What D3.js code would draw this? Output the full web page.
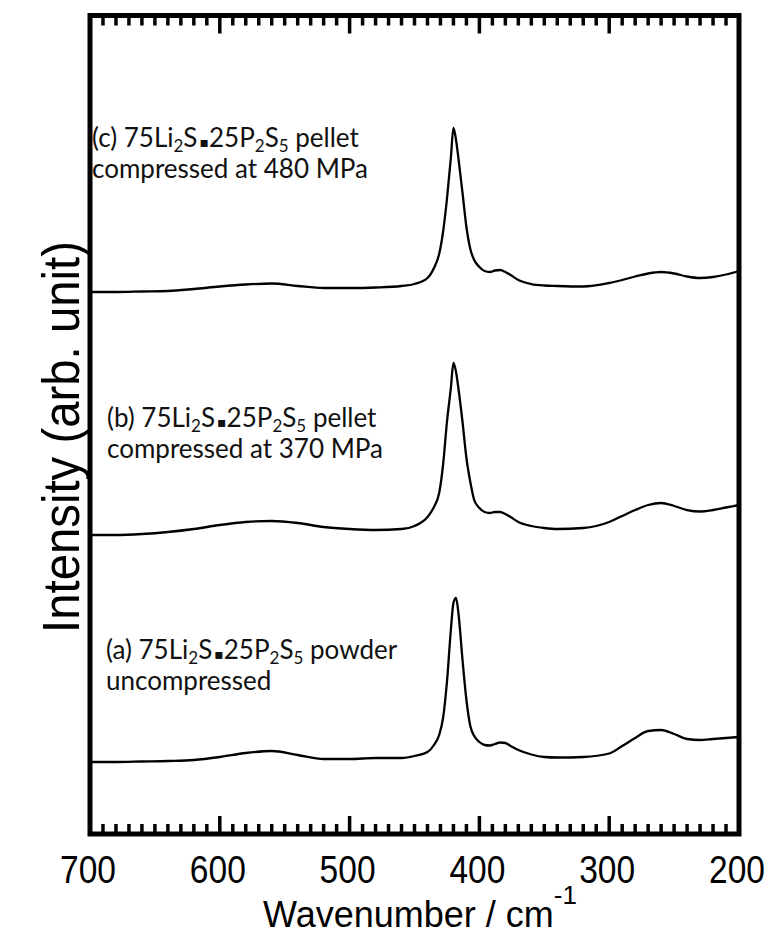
<html>
<head>
<meta charset="utf-8">
<script src="https://d3js.org/d3.v7.min.js"></script>
<style>
  body { margin: 0; background: #fff; }
  .note { font-family: Lato, 'Open Sans', sans-serif; font-size: 26px; fill: #111; }
  .num { font-family: 'Liberation Sans', Arial, sans-serif; }
</style>
</head>
<body>
<svg id="chart" width="772" height="935"></svg>
<script>
// wavenumber grid (cm-1), shared by the three spectra
const wavenumbers = [700, 680, 660, 640, 620, 600, 580, 560, 540, 520, 500, 480, 460, 450, 440, 435, 431, 428, 425, 422, 420, 418, 416, 413, 410, 407, 404, 400, 396, 392, 388, 384, 380, 376, 370, 360, 350, 340, 320, 300, 290, 280, 270, 260, 250, 240, 230, 220, 210, 200];

// intensities (arb. unit)
const powderA = [72, 72, 72.5, 73, 74, 77, 81, 83, 79, 75, 75, 76, 76, 78, 82, 89, 99, 116, 152, 204, 231, 236, 219, 174, 134, 108, 98, 92, 89, 88.5, 90, 91.5, 91, 88, 84, 79.5, 77, 76.5, 77, 80.5, 88, 96, 103, 104, 100, 95, 94, 95, 96, 97];
const pellet370 = [74, 74, 75, 77, 80, 84, 87, 88, 86, 82, 80, 79, 80, 83, 92, 102, 116, 144, 187, 221, 246, 237, 219, 187, 151, 127, 109, 101, 97, 96, 97, 97, 95, 92, 87, 83, 81, 80, 81, 87, 93, 99, 104, 106, 103, 99, 97.5, 99, 101.5, 104];
const pellet480 = [77, 77, 77.5, 78, 80, 82.5, 84.5, 85.5, 83, 81, 81, 81.5, 83, 85, 91, 101, 115, 137, 170, 211, 241, 229, 209, 176, 142, 120, 109, 102, 98, 97, 98.5, 99, 97, 94, 89, 85, 83.5, 83, 82.5, 86, 89, 92.5, 95.5, 97, 95.5, 92.5, 91, 92, 94.5, 98];

// vertical offsets used to stack the spectra
const offsets = [0, 225, 465];
const labelLines = [
  [["(a) 75Li", "2", "S", "▪", "25P", "2", "S", "5", " powder"], ["uncompressed"]],
  [["(b) 75Li", "2", "S", "▪", "25P", "2", "S", "5", " pellet"], ["compressed at 370 MPa"]],
  [["(c) 75Li", "2", "S", "▪", "25P", "2", "S", "5", " pellet"], ["compressed at 480 MPa"]]
];
const labelX = [106, 107, 92];
const labelLevel = [175, 182, 222]; // first-line baseline, intensity units above each offset

const majorTicks = [700, 600, 500, 400, 300, 200];
const minorTicks = d3.range(200, 701, 10).filter(v => v % 100 !== 0);

const svg = d3.select("#chart");
const plotLeft = 90, plotRight = 739, plotTop = 15.5, plotBottom = 834;

const x = d3.scaleLinear().domain([700, 200]).range([plotLeft, plotRight]);
const y = d3.scaleLinear().domain([0, 818.5]).range([plotBottom, plotTop]);

const spectra = [powderA, pellet370, pellet480];

const line = d3.line()
  .x(d => x(d[0]))
  .y(d => y(d[1]))
  .curve(d3.curveMonotoneX);

spectra.forEach((s, i) => {
  const pts = wavenumbers.map((w, j) => [w, s[j] + offsets[i]]);
  svg.append("path")
    .datum(pts)
    .attr("fill", "none")
    .attr("stroke", "#000")
    .attr("stroke-width", 2.3)
    .attr("stroke-linejoin", "round")
    .attr("d", line);
});

// inward ticks on top and bottom edges
function ticks(vals, len) {
  [[plotTop, 1], [plotBottom, -1]].forEach(([y0, dir]) => {
    svg.append("g").selectAll("line")
      .data(vals)
      .join("line")
      .attr("x1", d => x(d)).attr("x2", d => x(d))
      .attr("y1", y0).attr("y2", y0 + dir * len)
      .attr("stroke", "#000")
      .attr("stroke-width", 3.5);
  });
}
ticks(minorTicks, 10);
ticks(majorTicks, 18);

// frame
svg.append("rect")
  .attr("x", plotLeft).attr("y", plotTop)
  .attr("width", plotRight - plotLeft).attr("height", plotBottom - plotTop)
  .attr("fill", "none")
  .attr("stroke", "#000")
  .attr("stroke-width", 5);

// tick labels
svg.append("g").selectAll("text")
  .data(majorTicks)
  .join("text")
  .attr("class", "num")
  .attr("x", d => x(d) - 2)
  .attr("y", 883)
  .attr("text-anchor", "middle")
  .attr("font-size", 38)
  .attr("textLength", 56)
  .attr("lengthAdjust", "spacingAndGlyphs")
  .text(d => d);

// axis titles
const xt = svg.append("text")
  .attr("class", "num")
  .attr("x", 420).attr("y", 927)
  .attr("text-anchor", "middle")
  .attr("font-size", 36);
xt.append("tspan").text("Wavenumber / cm");
xt.append("tspan").attr("font-size", 26).attr("dy", -23).text("-1");

svg.append("text")
  .attr("class", "num")
  .attr("transform", "translate(79,437) rotate(-90)")
  .attr("text-anchor", "middle")
  .attr("font-size", 52)
  .attr("textLength", 392)
  .attr("lengthAdjust", "spacingAndGlyphs")
  .text("Intensity (arb. unit)");

// sample labels
labelLines.forEach((lines, i) => {
  const lx = labelX[i];
  const ly = y(labelLevel[i] + offsets[i]);
  lines.forEach((parts, k) => {
    const t = svg.append("text").attr("class", "note")
      .attr("x", lx).attr("y", ly + k * 31);
    if (parts.length === 1) { t.text(parts[0]); return; }
    parts.forEach((p, n) => {
      const sub = /^[25]$/.test(p);
      const ts = t.append("tspan").text(p);
      if (sub) ts.attr("font-size", 17).attr("dy", 5);
      else if (n > 0 && /^[25]$/.test(parts[n - 1])) ts.attr("dy", -5);
      if (p === "▪") ts.attr("font-family", "'DejaVu Sans'").attr("font-size", 14).attr("dx", 2);
    });
  });
});
</script>
</body>
</html>
